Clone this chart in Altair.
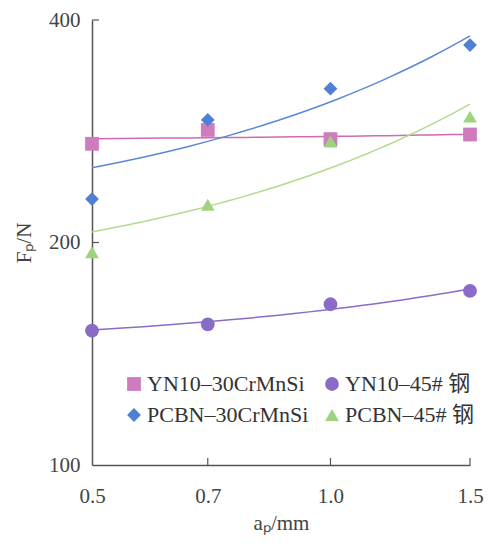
import altair as alt
import pandas as pd

# ---- data ----
ap = [0.5, 0.7, 1.0, 1.5]
series_names = ["YN10–30CrMnSi", "PCBN–30CrMnSi", "YN10–45# 钢", "PCBN–45# 钢"]
yn10_30 = [272, 284, 276, 280]
pcbn_30 = [229, 293, 323, 370]
yn10_45 = [152, 155, 165, 172]
pcbn_45 = [194, 225, 274, 296]

x_ticks = [0.5, 0.7, 1.0, 1.5]
y_ticks = [100, 200, 400]

marker_colors = ["#cf7cbf", "#4f80d4", "#8a6cc8", "#9fd47f"]
line_colors = ["#d06ab2", "#5a88d6", "#8a6cc8", "#b2dc8c"]
shapes = ["square", "diamond", "circle", "triangle-up"]

rows = []
for name, vals in zip(series_names, [yn10_30, pcbn_30, yn10_45, pcbn_45]):
    for a, f in zip(ap, vals):
        rows.append({"ap": a, "Fp": f, "series": name})
df = pd.DataFrame(rows)

W, H = 378, 445
FONT = "'Liberation Serif', 'Noto Sans CJK SC', serif"

xscale = alt.Scale(type="log", domain=[0.5, 1.5], nice=False)
yscale = alt.Scale(type="log", domain=[100, 400], nice=False)

base = alt.Chart(df)

fit_layers = []
for name, lc in zip(series_names, line_colors):
    fit_layers.append(
        base.transform_filter(alt.datum.series == name)
        .transform_regression("ap", "Fp", method="exp", extent=[0.5, 1.5])
        .mark_line(strokeWidth=1.5, clip=False, color=lc)
        .encode(x=alt.X("ap:Q", scale=xscale), y=alt.Y("Fp:Q", scale=yscale))
    )

legend = alt.Legend(
    title=None, orient="none", legendX=31, legendY=353, columns=2,
    symbolSize=190, labelFontSize=22, labelFont=FONT, labelColor="#333333",
    labelOffset=2, rowPadding=9, columnPadding=12, padding=0,
    symbolOpacity=1, labelLimit=400,
)

points = base.mark_point(filled=True, opacity=1, size=190).encode(
    x=alt.X(
        "ap:Q",
        scale=xscale,
        axis=alt.Axis(
            values=x_ticks, format=".1f", title="aₚ/mm", tickSize=0,
            labelPadding=20, titlePadding=6, labelFlush=False,
        ),
    ),
    y=alt.Y(
        "Fp:Q",
        scale=yscale,
        axis=alt.Axis(
            values=y_ticks, format="d", title="Fₚ/N", tickSize=0,
            labelPadding=12, titlePadding=14, labelFlush=False,
        ),
    ),
    color=alt.Color("series:N", scale=alt.Scale(domain=series_names, range=marker_colors), legend=legend),
    shape=alt.Shape("series:N", scale=alt.Scale(domain=series_names, range=shapes), legend=legend),
)

xtick_df = pd.DataFrame({"ap": x_ticks[1:]})
ytick_df = pd.DataFrame({"Fp": y_ticks[1:]})

xticks = alt.Chart(xtick_df).mark_rule(color="#555555", strokeWidth=1.2).encode(
    x=alt.X("ap:Q", scale=xscale), y=alt.value(H), y2=alt.value(H - 7)
)
yticks = alt.Chart(ytick_df).mark_rule(color="#555555", strokeWidth=1.2).encode(
    y=alt.Y("Fp:Q", scale=yscale), x=alt.value(0), x2=alt.value(7)
)

chart = alt.layer(*fit_layers, points, xticks, yticks).properties(
    width=W, height=H,
    autosize=alt.AutoSizeParams(type="none"),
    padding={"left": 84, "top": 12, "right": 14, "bottom": 71},
).configure_view(stroke=None).configure_axis(
    domainColor="#555555", domainWidth=1.5, grid=False,
    labelFont=FONT, labelFontSize=21, labelColor="#444444",
    titleFont=FONT, titleFontSize=21, titleColor="#444444", titleFontWeight="normal",
)

chart.save("out.html", embed_options={"renderer": "svg", "actions": False})
